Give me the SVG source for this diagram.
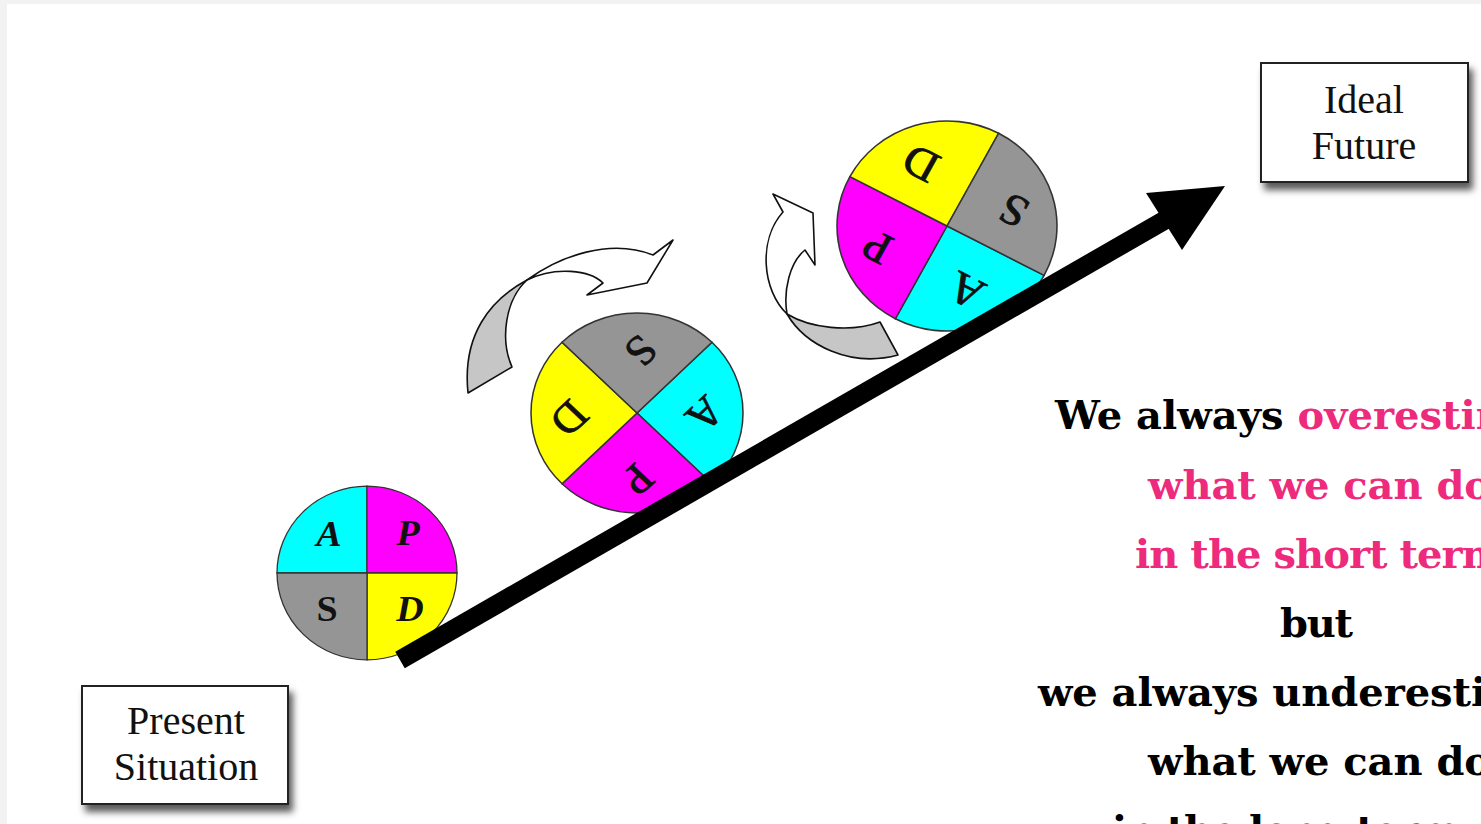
<svg xmlns="http://www.w3.org/2000/svg" width="1481" height="824" viewBox="0 0 1481 824">
<style>
.qa{fill:#00ffff}.qp{fill:#ff00ff}.qd{fill:#ffff00}.qs{fill:#959595}
.q{stroke:#333;stroke-width:1.3}
.l1{font-family:"Liberation Serif",serif;font-weight:bold;font-style:italic;font-size:38px;text-anchor:middle;fill:#111}
.l1s{font-family:"Liberation Serif",serif;font-weight:bold;font-size:38px;text-anchor:middle;fill:#111}
.l2{font-family:"Liberation Serif",serif;font-size:38px;text-anchor:middle;fill:#111;stroke:#111;stroke-width:0.7}
.box{fill:#fff;stroke:#222;stroke-width:2}
.bt{font-family:"Liberation Serif",serif;font-size:40px;text-anchor:middle;fill:#111}
.qt{font-family:"DejaVu Serif",serif;font-weight:bold;font-size:40px;fill:#000}
.pk{fill:#ED2A7B}
.front{fill:#fff;stroke:#111;stroke-width:1.6;stroke-linejoin:round}
.back{fill:#c6c6c6;stroke:#111;stroke-width:1.6;stroke-linejoin:round}
</style>
<defs>
<filter id="sh" x="-10%" y="-10%" width="130%" height="140%">
<feDropShadow dx="4" dy="7" stdDeviation="3.5" flood-color="#000" flood-opacity="0.65"/>
</filter>
<g id="wheel">
<path class="qa q" d="M0,0 L-90,0 A90,90 0 0 1 0,-90 Z"/>
<path class="qp q" d="M0,0 L0,-90 A90,90 0 0 1 90,0 Z"/>
<path class="qd q" d="M0,0 L90,0 A90,90 0 0 1 0,90 Z"/>
<path class="qs q" d="M0,0 L0,90 A90,90 0 0 1 -90,0 Z"/>
</g>
</defs>
<rect x="0" y="0" width="1481" height="824" fill="#f2f2f2"/>
<rect x="7" y="4" width="1474" height="820" fill="#fff"/>

<g id="connectors">
<g id="turn1">
<path class="back" d="M527,280 C490,300 462,335 468,393 L512,367 C500,340 505,300 527,280 Z"/>
<path class="front" d="M527,280 C560,256 610,238 653,255 L673,240 L647,283 L587,295 L603,283 C590,270 555,266 527,280 Z"/>
</g>
<g id="turn2">
<path class="back" d="M787,314 C805,345 850,368 898,355 L880,322 C850,333 810,328 787,314 Z"/>
<path class="front" d="M787,314 C762,290 758,240 783,212 L773,194 L813,213 L815,265 L805,250 C790,262 783,290 787,314 Z"/>
</g>
</g>

<g id="cycle1" transform="translate(367,573) scale(1,0.965)">
<use href="#wheel"/>
<text class="l1" x="-38" y="-28">A</text>
<text class="l1" x="41" y="-29">P</text>
<text class="l1s" x="-40" y="50">S</text>
<text class="l1" x="43" y="50">D</text>
</g>
<g id="cycle2" transform="translate(637,413) scale(1.178,1.111) rotate(135)">
<use href="#wheel"/>
<text class="l2" x="-40" y="-29">A</text>
<text class="l2" x="42" y="-30">P</text>
<text class="l2" x="-42" y="50">S</text>
<text class="l2" x="44" y="50">D</text>
</g>
<g id="cycle3" transform="translate(947,226) scale(1.222,1.167) rotate(-152)">
<use href="#wheel"/>
<text class="l2" x="-40" y="-29">A</text>
<text class="l2" x="42" y="-30">P</text>
<text class="l2" x="-42" y="50">S</text>
<text class="l2" x="44" y="50">D</text>
</g>

<g id="main-arrow">
<line x1="400" y1="660" x2="1172" y2="216" stroke="#000" stroke-width="19"/>
<polygon points="1225,186 1146,193 1182,250" fill="#000"/>
</g>

<g id="present">
<rect class="box" x="82" y="686" width="206" height="118" filter="url(#sh)"/>
<text class="bt" x="186" y="734">Present</text>
<text class="bt" x="186" y="780">Situation</text>
</g>
<g id="ideal">
<rect class="box" x="1261" y="63" width="207" height="119" filter="url(#sh)"/>
<text class="bt" x="1364" y="113">Ideal</text>
<text class="bt" x="1364" y="159">Future</text>
</g>

<g id="quote">
<text class="qt" x="1055" y="429" textLength="533">We always <tspan class="pk">overestimate</tspan></text>
<text class="qt pk" x="1148" y="499" textLength="343">what we can do</text>
<text class="qt pk" x="1135" y="568" textLength="369">in the short term</text>
<text class="qt" x="1280" y="637" textLength="73">but</text>
<text class="qt" x="1038" y="706" textLength="560">we always underestimate</text>
<text class="qt" x="1148" y="775" textLength="343">what we can do</text>
<text class="qt" x="1112" y="844" textLength="348">in the long term</text>
</g>
</svg>
